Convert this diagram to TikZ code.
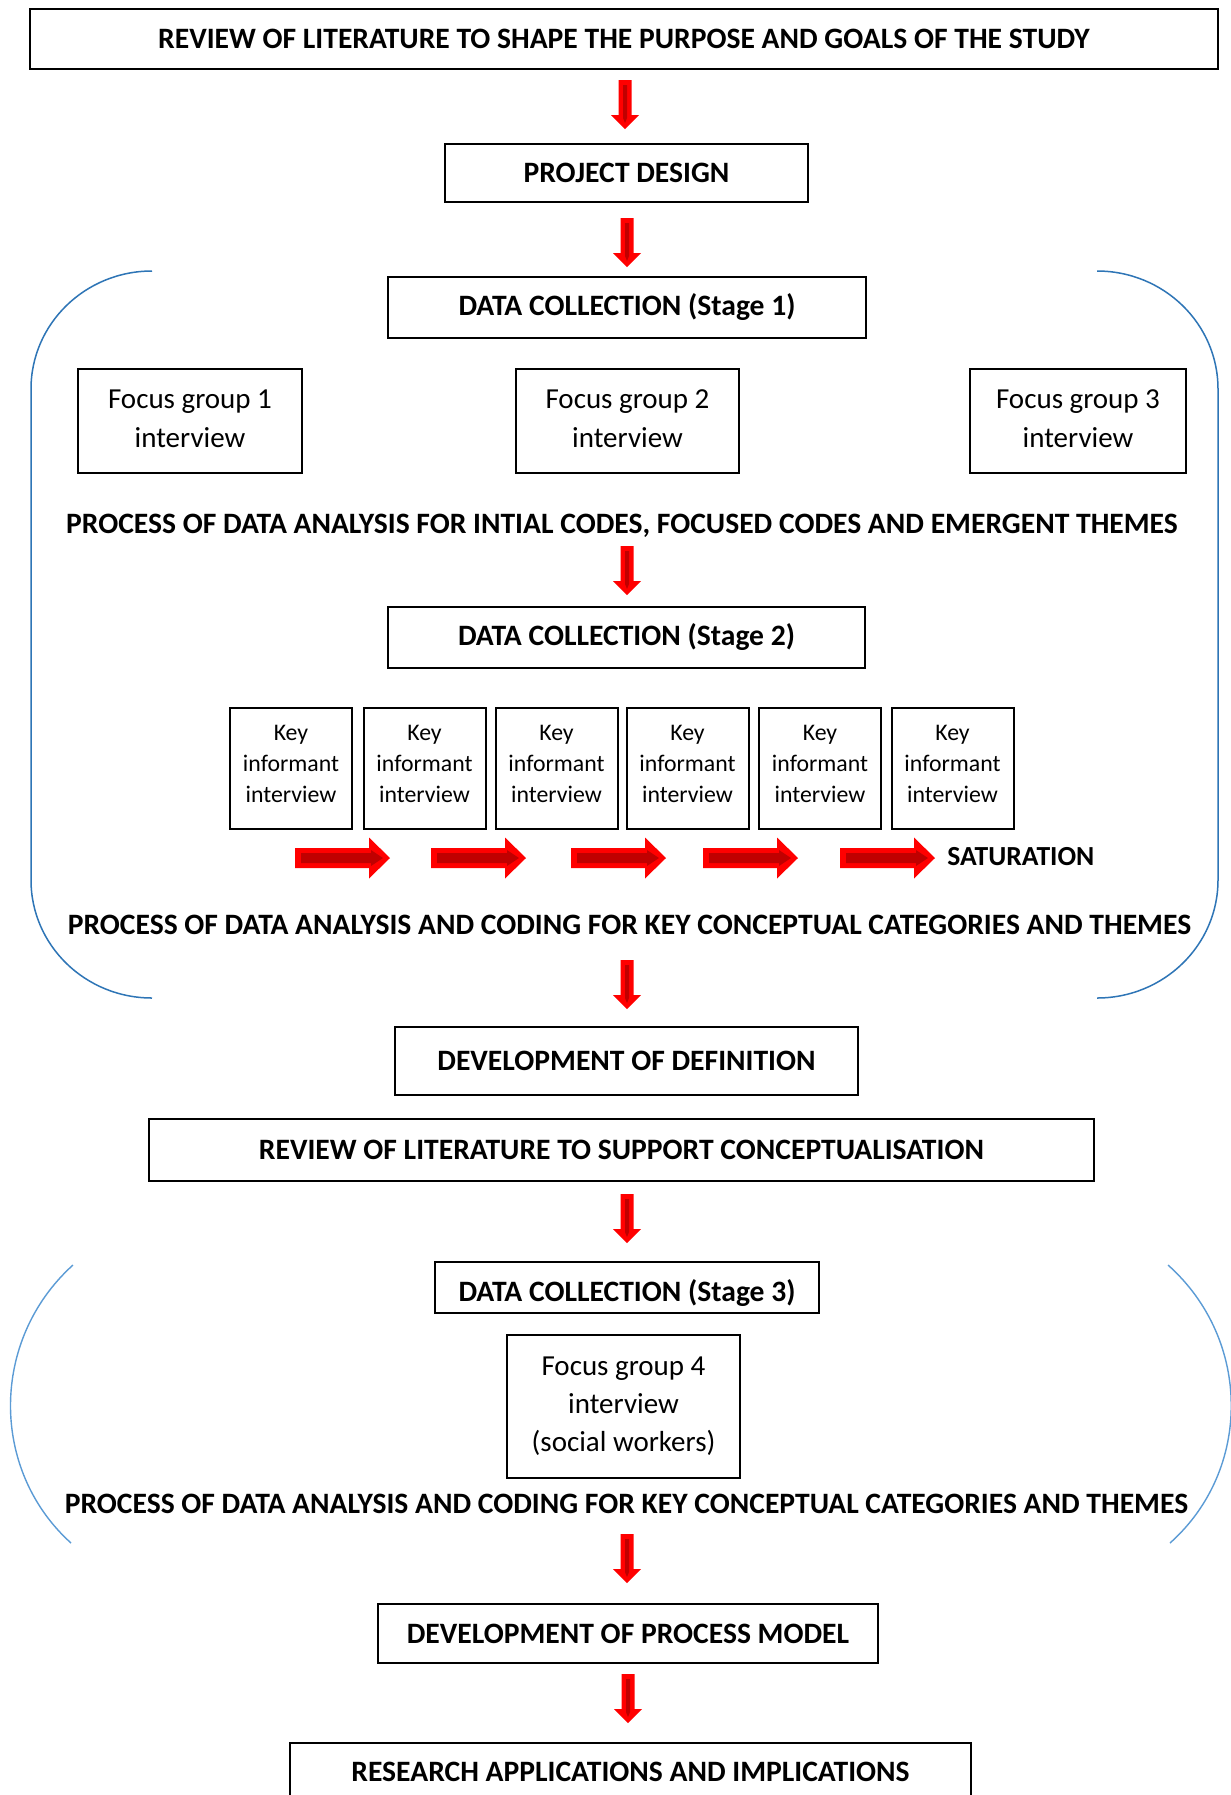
\documentclass[tikz,border=0pt]{standalone}
\usepackage{fontspec}
\setmainfont{Carlito}
\definecolor{arrowred}{HTML}{FF0000}
\definecolor{arrowdark}{HTML}{C00000}
\definecolor{bracketblue}{HTML}{2E75B6}
\definecolor{parenblue}{HTML}{5B9BD5}
\tikzset{
  thinbox/.style={draw=black, line width=0.6pt, inner sep=0pt, align=center,
    font=\bfseries\fontsize{14.8}{17}\selectfont},
  thickbox/.style={draw=black, line width=1pt, inner sep=0pt, align=center},
  fgtext/.style={font=\fontsize{14.5}{19.5}\selectfont, text depth=2.5pt},
  keytext/.style={font=\fontsize{11.9}{15.5}\selectfont, minimum width=61pt, minimum height=60.5pt, text depth=5pt},
  proctext/.style={inner sep=0pt, font=\bfseries\fontsize{14.8}{17}\selectfont},
  bracket/.style={draw=bracketblue, line width=0.75pt},
  paren/.style={draw=parenblue, line width=0.7pt},
  pics/downarrow/.style={code={
    \fill[arrowred] (-6.5,0) -- (6.5,0) -- (6.5,35) -- (14,35) -- (0,49) -- (-14,35) -- (-6.5,35) -- cycle;
    \fill[arrowdark] (-2,5) -- (2,5) -- (2,38) -- (0,43) -- (-2,38) -- cycle;
  }},
  pics/rightarrow/.style={code={
    \fill[arrowred] (0,-10) -- (74,-10) -- (74,-20.5) -- (95,0) -- (74,20.5) -- (74,10) -- (0,10) -- cycle;
    \fill[arrowdark] (6,-5) -- (76,-5) -- (76,-8) -- (88,0) -- (76,8) -- (76,5) -- (6,5) -- cycle;
  }}
}
\begin{document}
\begin{tikzpicture}[x=0.5pt,y=-0.5pt]
\clip (0,0) rectangle (1231,1795);
\fill[white] (0,0) rectangle (1231,1795);

% boxes
\node[thinbox, minimum width=594pt, minimum height=30pt] (top) at (624,39) {REVIEW OF LITERATURE TO SHAPE THE PURPOSE AND GOALS OF THE STUDY};
\node[thinbox, minimum width=181.5pt, minimum height=29pt] (pd) at (626.5,173) {PROJECT DESIGN};
\node[thinbox, minimum width=239pt, minimum height=30.5pt] (dc1) at (627,307.5) {DATA COLLECTION (Stage 1)};
\node[thickbox, fgtext, minimum width=112pt, minimum height=52pt] (fg1) at (190,421) {Focus group 1\\interview};
\node[thickbox, fgtext, minimum width=111.5pt, minimum height=52pt] (fg2) at (627.5,421) {Focus group 2\\interview};
\node[thickbox, fgtext, minimum width=108pt, minimum height=52pt] (fg3) at (1078,421) {Focus group 3\\interview};
\node[proctext] (proc1) at (622,525.5) {PROCESS OF DATA ANALYSIS FOR INTIAL CODES, FOCUSED CODES AND EMERGENT THEMES};
\node[thinbox, minimum width=238.5pt, minimum height=30.5pt] (dc2) at (626.5,637.5) {DATA COLLECTION (Stage 2)};
\node[thickbox, keytext] (k1) at (291,768.5) {Key\\informant\\interview};
\node[thickbox, keytext] (k2) at (424.5,768.5) {Key\\informant\\interview};
\node[thickbox, keytext] (k3) at (556.5,768.5) {Key\\informant\\interview};
\node[thickbox, keytext] (k4) at (687.5,768.5) {Key\\informant\\interview};
\node[thickbox, keytext] (k5) at (820,768.5) {Key\\informant\\interview};
\node[thickbox, keytext] (k6) at (952.5,768.5) {Key\\informant\\interview};
\node[inner sep=0pt, anchor=west, font=\bfseries\fontsize{13.8}{16}\selectfont] (sat) at (947,857) {SATURATION};
\node[proctext] (proc2) at (629.5,925) {PROCESS OF DATA ANALYSIS AND CODING FOR KEY CONCEPTUAL CATEGORIES AND THEMES};
\node[thinbox, minimum width=231.5pt, minimum height=34pt] (dd) at (626.5,1061) {DEVELOPMENT OF DEFINITION};
\node[thinbox, minimum width=472.5pt, minimum height=31pt] (rl) at (621.5,1150) {REVIEW OF LITERATURE TO SUPPORT CONCEPTUALISATION};
\node[thinbox, minimum width=192pt, minimum height=25.5pt, text height=16pt] (dc3) at (627,1287.5) {DATA COLLECTION (Stage 3)};
\node[thickbox, font=\fontsize{14.5}{19}\selectfont, minimum width=116.5pt, minimum height=71.5pt] (fg4) at (623.5,1406.5) {Focus group 4\\interview\\(social workers)};
\node[proctext] (proc3) at (626.5,1504) {PROCESS OF DATA ANALYSIS AND CODING FOR KEY CONCEPTUAL CATEGORIES AND THEMES};
\node[thinbox, minimum width=250pt, minimum height=29.5pt] (pm) at (628,1633.5) {DEVELOPMENT OF PROCESS MODEL};
\node[thinbox, minimum width=340.5pt, minimum height=29pt] (ra) at (630.5,1772) {RESEARCH APPLICATIONS AND IMPLICATIONS};

% vertical block arrows
\coordinate (a1) at (625,80);
\coordinate (a2) at (627,218);
\coordinate (a3) at (627,546);
\coordinate (a4) at (627,960);
\coordinate (a5) at (627,1194);
\coordinate (a6) at (627,1534);
\coordinate (a7) at (628,1674);
\foreach \c in {a1,a2,a3,a4,a5,a6,a7} { \pic at (\c) {downarrow}; }

% horizontal block arrows
\coordinate (h1) at (295,858);
\coordinate (h2) at (431,858);
\coordinate (h3) at (571,858);
\coordinate (h4) at (703,858);
\coordinate (h5) at (840,858);
\foreach \c in {h1,h2,h3,h4,h5} { \pic at (\c) {rightarrow}; }

% brackets around stage 1 and 2
\draw[bracket] (152,271) .. controls (85.2,271) and (31,323.8) .. (31,389) -- (31,880) .. controls (31,945.2) and (85.2,998) .. (152,998);
\draw[bracket] (1097,271) .. controls (1163.8,271) and (1218,323.8) .. (1218,389) -- (1218,880) .. controls (1218,945.2) and (1163.8,998) .. (1097,998);

% parentheses around stage 3
\draw[paren] (73,1265) .. controls (-10,1340) and (-10,1470) .. (71,1543);
\draw[paren] (1168,1265) .. controls (1252,1340) and (1252,1470) .. (1170,1543);
\end{tikzpicture}
\end{document}
